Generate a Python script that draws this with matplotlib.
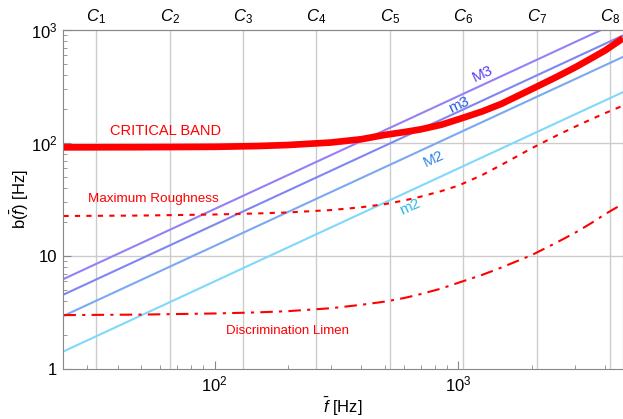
import numpy as np
from matplotlib import pyplot as plt
from matplotlib.ticker import FixedLocator, FixedFormatter, NullFormatter

# frequencies at which the curves were read (Hz)
f_curve = [24, 50, 100, 150, 200, 300, 400, 500, 600, 700, 850, 1000,
           1250, 1500, 2000, 2500, 3000, 3500, 4000, 4730]
critical_band = [91.5, 91.8, 92.5, 94, 96, 101, 108, 118, 125, 132, 145, 162,
                 190, 222, 300, 380, 465, 560, 660, 845]
max_roughness = [22.6, 22.8, 23.3, 23.8, 24.3, 25.5, 27, 28.8, 31, 33.5, 37.5, 42,
                 52, 64, 90, 115, 139, 162, 184, 214]
discrimination = [3.0, 3.03, 3.1, 3.17, 3.25, 3.45, 3.7, 3.95, 4.25, 4.6, 5.15, 5.8,
                  6.8, 7.9, 10.2, 13, 16, 19.5, 23.5, 29]

# interval bandwidth lines, read at both ends of the axis
f_line = [24, 4730]
M3 = [6.25, 1230]
m3 = [4.55, 895]
M2 = [2.95, 578]
m2 = [1.43, 282]

c_names = [r"$C_{%d}$" % i for i in range(1, 9)]
c_freqs = [32.70, 65.41, 130.81, 261.63, 523.25, 1046.5, 2093.0, 4186.0]

plt.rcParams["font.family"] = ["Liberation Sans", "DejaVu Sans"]
plt.rcParams["mathtext.fontset"] = "custom"
plt.rcParams["mathtext.rm"] = "Liberation Sans"
plt.rcParams["mathtext.it"] = "Liberation Sans:italic"
plt.rcParams["font.size"] = 11

fig = plt.figure(figsize=(6.23, 4.19), dpi=100)
ax = fig.add_axes([63 / 623, 50 / 419, 560 / 623, 339 / 419])

grid_col = "#cccccc"
for f in c_freqs:
    ax.axvline(f, color=grid_col, lw=1.0, zorder=0)
for y in [10, 100]:
    ax.axhline(y, color=grid_col, lw=1.0, zorder=0)

ax.plot(f_line, M3, color="#9680f5", lw=1.5)
ax.plot(f_line, m3, color="#7f86f2", lw=1.5)
ax.plot(f_line, M2, color="#7aa8f2", lw=1.5)
ax.plot(f_line, m2, color="#80d8fa", lw=1.5)

ax.plot(f_curve, critical_band, color="red", lw=4.8, solid_capstyle="butt")
ax.plot(f_curve, max_roughness, color="red", lw=1.5, dashes=(2.5, 3))
ax.plot(f_curve, discrimination, color="red", lw=1.5, dashes=(6, 3, 1.5, 3))

ax.set_xscale("log")
ax.set_yscale("log")
ax.set_xlim(23.9, 4730)
ax.set_ylim(1, 1000)

ax.set_yticks([1, 10, 100, 1000])
ax.set_yticklabels(["1", "10", r"$\mathregular{10^2}$", r"$\mathregular{10^3}$"])
ax.set_xticks([100, 1000])
ax.set_xticklabels([r"$\mathregular{10^2}$", r"$\mathregular{10^3}$"])
ax.yaxis.set_minor_formatter(NullFormatter())
ax.xaxis.set_minor_formatter(NullFormatter())
ax.tick_params(which="major", direction="in", length=6, color="#888888", labelsize=12, pad=4)
ax.tick_params(which="minor", direction="in", length=3, color="#888888")

for s in ax.spines.values():
    s.set_color("#888888")

top = ax.secondary_xaxis("top")
top.xaxis.set_major_locator(FixedLocator(c_freqs))
top.xaxis.set_major_formatter(FixedFormatter(c_names))
top.xaxis.set_minor_locator(FixedLocator([]))
top.tick_params(length=0, labelsize=12, pad=3)
top.spines["top"].set_color("#888888")

ax.set_xlabel(r"$\bar{f}$ [Hz]", fontsize=12, labelpad=1)
ax.set_ylabel(r"b($\bar{f}$) [Hz]", fontsize=12, labelpad=0)

ax.text(63, 128, "CRITICAL BAND", color="red", fontsize=10.5, ha="center", va="center")
ax.text(56, 31.9, "Maximum Roughness", color="red", fontsize=9.7, ha="center", va="center")
ax.text(200, 2.18, "Discrimination Limen", color="red", fontsize=9.5, ha="center", va="center")

ax.text(1262, 408, "M3", color="#5a3cf0", fontsize=11, rotation=25, ha="center", va="center")
ax.text(1006, 217, "m3", color="#2a5ae8", fontsize=11, rotation=25, ha="center", va="center")
ax.text(794, 72, "M2", color="#2f86ea", fontsize=11, rotation=25, ha="center", va="center")
ax.text(634, 27.2, "m2", color="#30b8ea", fontsize=11, rotation=25, ha="center", va="center")

plt.savefig("out.png", dpi=100)
